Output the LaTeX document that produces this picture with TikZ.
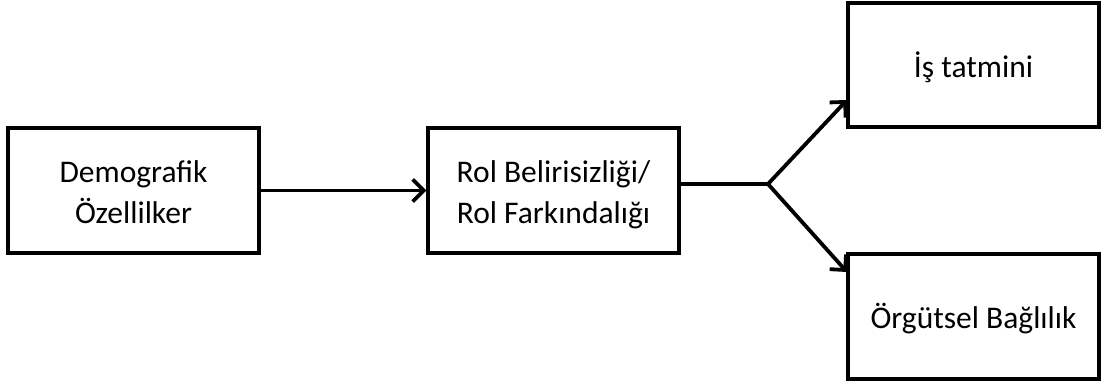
\documentclass[tikz,border=0pt]{standalone}
\usepackage{fontspec}
\setmainfont{Carlito}
\usetikzlibrary{arrows.meta}
\newcommand\boxtext[1]{\raisebox{-4pt}[\height][\depth]{\begin{tabular}{@{}c@{}}#1\end{tabular}}}
\begin{document}
\begin{tikzpicture}[x=1pt,y=-1pt,
  box/.style={draw=black,line width=3.2pt,minimum width=251pt,minimum height=125pt,
    inner sep=0pt,font=\fontsize{31.5}{41.5}\selectfont},
  conn/.style={line width=3.8pt},
  arr/.style={conn,-{Straight Barb[length=11pt,width=22pt,line width=3.8pt]}}]
\useasboundingbox (0,0) rectangle (1101,382);
\node[box] (demo) at (133.5,190.5) {\boxtext{Demografik\\Özellilker}};
\node[box] (rol) at (553.5,190.5) {\boxtext{Rol Belirisizliği/\\Rol Farkındalığı}};
\node[box,minimum height=124pt] (is) at (973.5,65) {\boxtext{İş tatmini}};
\node[box] (org) at (973.5,316.5) {\boxtext{Örgütsel Bağlılık}};
\coordinate (br) at (768,184);
\coordinate (t1) at (847,100);
\coordinate (t2) at (847,272);
\draw[arr] (demo.east) -- (rol.west);
\draw[conn] (rol.east |- br) -- (br);
\draw[arr] (br) -- (t1);
\draw[arr] (br) -- (t2);
\end{tikzpicture}
\end{document}
